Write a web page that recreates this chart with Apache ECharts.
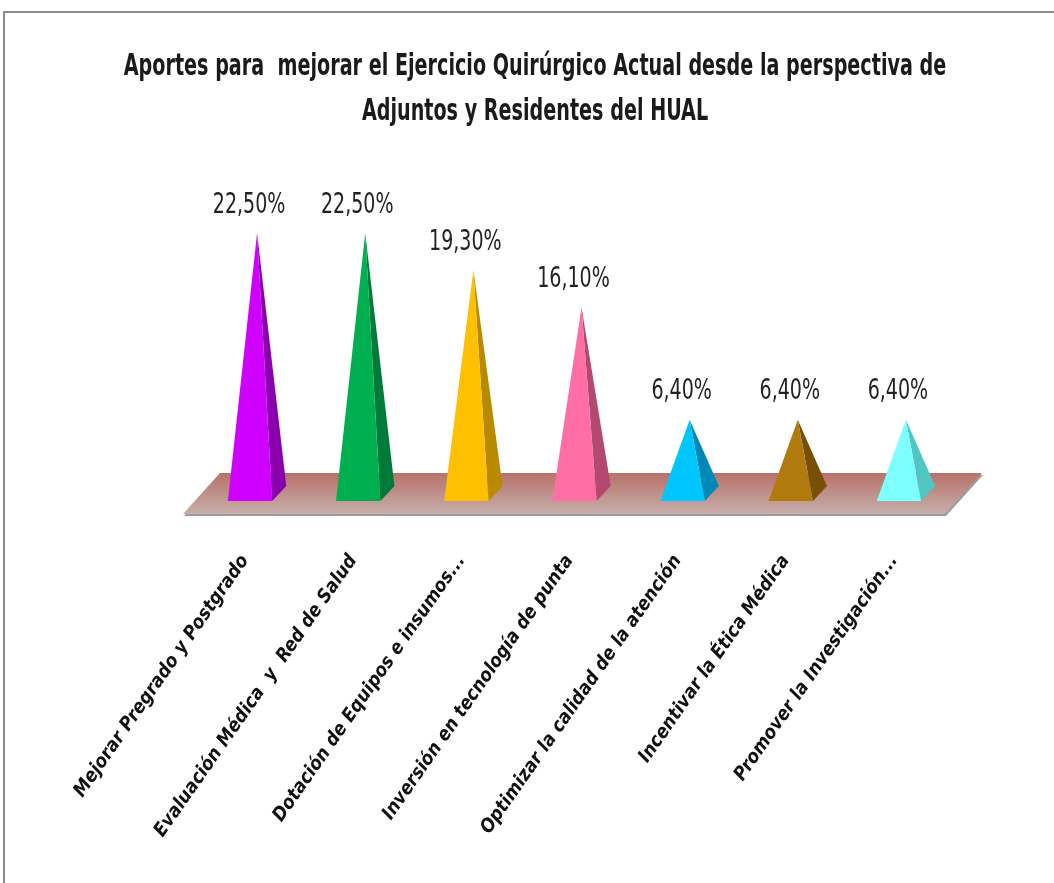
<!DOCTYPE html>
<html>
<head>
<meta charset="utf-8">
<script src="https://cdn.jsdelivr.net/npm/echarts@6/dist/echarts.min.js"></script>
<style>
  html, body { margin: 0; padding: 0; background: #fff; }
  #chart { width: 1054px; height: 883px; }
</style>
</head>
<body>
<div id="chart"></div>
<script>
// categorías y valores (%)
const categories = [
  "Mejorar Pregrado y Postgrado",
  "Evaluación Médica  y  Red de Salud",
  "Dotación de Equipos e insumos...",
  "Inversión en tecnología de punta",
  "Optimizar la calidad de la atención",
  "Incentivar la Ética Médica",
  "Promover la Investigación..."
];
const values = [22.5, 22.5, 19.3, 16.1, 6.4, 6.4, 6.4];
const titleLines = [
  "Aportes para  mejorar el Ejercicio Quirúrgico Actual desde la perspectiva de",
  "Adjuntos y Residentes del HUAL"
];

const frontColors = ["#d000ff", "#00b050", "#ffc000", "#ff6fa6", "#00c6ff", "#b07a0e", "#7dffff"];
const sideColors = ["#8a00ac", "#007a38", "#b88a00", "#b3496f", "#0089b5", "#775006", "#4fc6c4"];

const FONT = "'Liberation Sans Narrow', 'DejaVu Sans Condensed', 'Noto Sans', sans-serif";

const chart = echarts.init(document.getElementById("chart"));

function fmt(v) {
  return v.toFixed(2).replace(".", ",") + "%";
}

// piso (plataforma)
function renderFloor(params, api) {
  const cs = params.coordSys;
  const x0 = cs.x, x1 = cs.x + cs.width, y0 = cs.y + cs.height;
  const pts = [
    [x0 + 17, y0 - 21],
    [x1 + 22, y0 - 21],
    [x1 - 15, y0 + 20],
    [x0 - 20, y0 + 20]
  ];
  const shadow = pts.map(p => [p[0] + 1, p[1] + 2]);
  return {
    type: "group",
    children: [
      { type: "polygon", shape: { points: shadow }, style: { fill: "#9c9c9c" } },
      {
        type: "polygon",
        shape: { points: pts },
        style: {
          fill: new echarts.graphic.LinearGradient(0, 0, 0, 1, [
            { offset: 0, color: "#b8726a" },
            { offset: 1, color: "#c6aeaa" }
          ])
        }
      }
    ]
  };
}

// pirámides
function renderPyramid(params, api) {
  const idx = api.value(0);
  const val = api.value(1);
  const top = api.coord([idx, val]);
  const base = api.coord([idx, 0]);
  const bw = api.size([1, 0])[0];
  const c = base[0], y0 = base[1];
  const fl = [c - 0.27 * bw, y0 + 7];
  const fr = [c + 0.14 * bw, y0 + 7];
  const br = [c + 0.27 * bw, y0 - 8];
  return {
    type: "group",
    children: [
      { type: "polygon", shape: { points: [fr, br, top] }, style: { fill: sideColors[idx] } },
      { type: "polygon", shape: { points: [fl, fr, top] }, style: { fill: frontColors[idx] } },
      {
        type: "text",
        x: top[0] - 8,
        y: top[1] - 28,
        scaleX: 0.73,
        style: {
          text: fmt(val),
          fill: "#222",
          font: "29px " + FONT,
          align: "center",
          verticalAlign: "middle"
        }
      }
    ]
  };
}

const option = {
  backgroundColor: "#fff",
  animation: false,
  graphic: [
    {
      type: "polyline",
      shape: { points: [[4, 883], [4, 12], [1054, 12]] },
      style: { stroke: "#8c8c8c", lineWidth: 2, fill: null },
      silent: true
    },
    {
      type: "text",
      x: 535,
      y: 67,
      scaleX: 0.71,
      style: {
        text: titleLines[0],
        font: "bold 30px " + FONT,
        fill: "#1a1a1a",
        align: "center",
        verticalAlign: "middle"
      }
    },
    {
      type: "text",
      x: 535,
      y: 112,
      scaleX: 0.71,
      style: {
        text: titleLines[1],
        font: "bold 30px " + FONT,
        fill: "#1a1a1a",
        align: "center",
        verticalAlign: "middle"
      }
    }
  ],
  grid: { left: 203, right: 94, top: 146, bottom: 389 },
  xAxis: {
    type: "category",
    data: categories,
    axisLine: { show: false },
    axisTick: { show: false },
    axisLabel: {
      rotate: 55,
      margin: 46,
      interval: 0,
      formatter: function (v) { return "{t|" + v + "}"; },
      rich: {
        t: {
          fontFamily: FONT,
          fontSize: 19,
          fontWeight: "bold",
          fontStyle: "italic",
          color: "#111",
          padding: [0, 21, 0, 0]
        }
      }
    }
  },
  yAxis: {
    type: "value",
    min: 0,
    max: 30,
    show: false,
    splitLine: { show: false }
  },
  series: [
    {
      type: "custom",
      renderItem: renderFloor,
      data: [[0, 0]],
      z: 1,
      silent: true
    },
    {
      type: "custom",
      renderItem: renderPyramid,
      data: values.map((v, i) => [i, v]),
      z: 2
    }
  ]
};

chart.setOption(option);
</script>
</body>
</html>
